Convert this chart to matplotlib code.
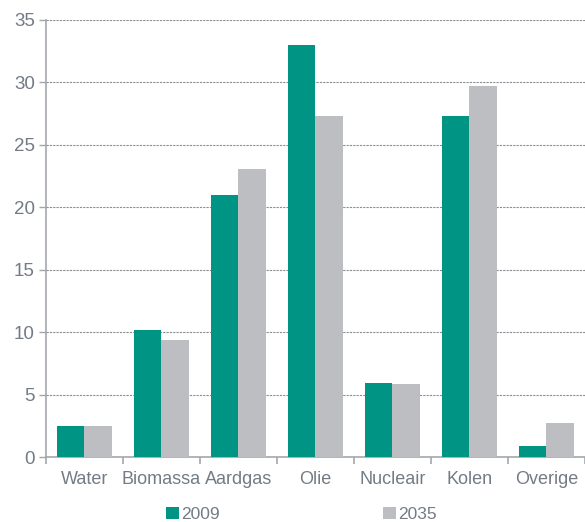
import matplotlib

matplotlib.use("Agg")
import matplotlib.pyplot as plt
import numpy as np

categories = ["Water", "Biomassa", "Aardgas", "Olie", "Nucleair", "Kolen", "Overige"]
v2009 = [2.45, 10.2, 21.0, 33.0, 5.9, 27.3, 0.9]
v2035 = [2.5, 9.4, 23.05, 27.35, 5.85, 29.75, 2.75]
series_labels = ["2009", "2035"]
yticks = [0, 5, 10, 15, 20, 25, 30, 35]

TEAL = "#009484"
GREY = "#bcbec1"
TXT = "#737b85"

plt.rcParams["font.family"] = ["Liberation Sans", "DejaVu Sans"]

fig = plt.figure(figsize=(5.85, 5.22), dpi=100)
ax = fig.add_axes([0.0786, 0.1245, 0.9214, 0.8372])

x = np.arange(len(categories))
w = 0.36
b1 = ax.bar(x - w / 2, v2009, w, color=TEAL, label=series_labels[0], zorder=3)
b2 = ax.bar(x + w / 2, v2035, w, color=GREY, label=series_labels[1], zorder=3)

ax.set_xlim(-0.5, len(categories) - 0.5)
ax.set_ylim(0, 35)
ax.set_yticks(yticks)
ax.set_xticks(x)
ax.set_xticklabels(categories)
ax.set_xticks(np.arange(len(categories) + 1) - 0.5, minor=True)

ax.grid(axis="y", color="#8a8d92", linestyle=(0, (2, 1)), linewidth=0.8, zorder=0)
for s in ["top", "right"]:
    ax.spines[s].set_visible(False)
for s in ["left", "bottom"]:
    ax.spines[s].set_color("#a3a7ad")
    ax.spines[s].set_linewidth(1.2)

ax.tick_params(axis="x", which="major", length=0, pad=10, labelsize=13, labelcolor=TXT)
ax.tick_params(axis="x", which="minor", length=5, color="#a3a7ad", width=1.2)
ax.tick_params(axis="y", length=5, color="#a3a7ad", width=1.0, pad=3,
               labelsize=13.5, labelcolor=TXT)

leg = fig.legend(handles=[b1, b2], loc="lower center", bbox_to_anchor=(0.515, -0.03),
                 ncol=2, frameon=False, fontsize=12.5, handlelength=0.75,
                 handleheight=0.75, handletextpad=0.1, columnspacing=9.4)
for t in leg.get_texts():
    t.set_color(TXT)

fig.savefig("out.png", dpi=100)
